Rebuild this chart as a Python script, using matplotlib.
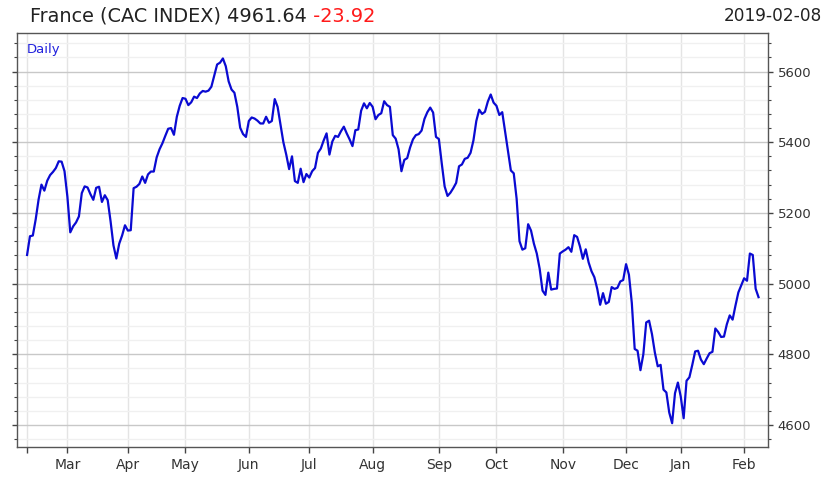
import matplotlib.pyplot as plt
from matplotlib.ticker import MultipleLocator
import pandas as pd

# Euronext closing days inside the window
holidays = ['2018-03-30', '2018-04-02', '2018-05-01', '2018-12-25', '2018-12-26', '2019-01-01']

# daily closes
feb_2018 = [5081, 5134, 5136, 5182, 5238, 5280, 5263, 5291, 5307, 5316, 5327, 5346, 5345, 5318]
mar_2018 = [5246, 5145, 5162, 5173, 5190, 5256, 5275, 5272, 5253, 5237, 5271, 5274, 5231, 5250,
            5236, 5176, 5108, 5071, 5113, 5136, 5165]
apr_2018 = [5150, 5151, 5270, 5274, 5282, 5303, 5285, 5309, 5317, 5317, 5357, 5380, 5397, 5418,
            5438, 5440, 5421, 5472, 5503, 5525]
may_2018 = [5523, 5505, 5513, 5529, 5525, 5538, 5545, 5543, 5546, 5557, 5588, 5620, 5625, 5637,
            5615, 5572, 5549, 5540, 5500, 5441, 5423, 5415]
jun_2018 = [5460, 5470, 5467, 5461, 5453, 5453, 5472, 5455, 5460, 5522, 5500, 5450, 5400, 5365,
            5324, 5360, 5290, 5285, 5325, 5287, 5310]
jul_2018 = [5300, 5318, 5327, 5370, 5382, 5405, 5425, 5365, 5402, 5418, 5415, 5431, 5444, 5425,
            5408, 5389, 5434, 5436, 5489, 5510, 5496, 5511]
aug_2018 = [5500, 5465, 5477, 5482, 5516, 5505, 5500, 5420, 5410, 5380, 5318, 5350, 5355, 5385,
            5408, 5420, 5423, 5433, 5466, 5485, 5498, 5484, 5415]
sep_2018 = [5409, 5340, 5275, 5248, 5257, 5270, 5285, 5332, 5337, 5353, 5356, 5370, 5405, 5460,
            5492, 5480, 5486, 5515, 5535, 5512]
oct_2018 = [5503, 5477, 5485, 5430, 5373, 5320, 5312, 5240, 5120, 5096, 5100, 5168, 5150, 5113,
            5085, 5042, 4980, 4968, 5031, 4983, 4985, 4986, 5085]
nov_2018 = [5091, 5096, 5103, 5090, 5137, 5132, 5105, 5070, 5097, 5060, 5035, 5018, 4985, 4940,
            4973, 4943, 4948, 4990, 4985, 4988, 5006, 5010]
dec_2018 = [5055, 5025, 4945, 4815, 4810, 4755, 4800, 4890, 4895, 4857, 4805, 4766, 4770, 4700,
            4692, 4635, 4605, 4690, 4720]
jan_2019 = [4680, 4619, 4725, 4735, 4770, 4808, 4810, 4785, 4772, 4788, 4803, 4807, 4873, 4863,
            4849, 4850, 4885, 4910, 4898, 4938, 4975, 4995]
feb_2019 = [5015, 5008, 5085, 5081, 4985.56, 4961.64]

last_close = 4961.64
change = -23.92
last_date = '2019-02-08'

closes = (feb_2018 + mar_2018 + apr_2018 + may_2018 + jun_2018 + jul_2018 + aug_2018
          + sep_2018 + oct_2018 + nov_2018 + dec_2018 + jan_2019 + feb_2019)

dates = pd.bdate_range('2018-02-09', last_date)
dates = dates[~dates.isin(pd.to_datetime(holidays))]
x = list(range(len(dates)))

# first trading day of every month gets a tick
month_starts = [i for i in x if i == 0 or dates[i].month != dates[i - 1].month]
month_labels = ['' if i == 0 else dates[i].strftime('%b') for i in month_starts]

fig = plt.figure(figsize=(8.33, 4.79), dpi=100)
ax = fig.add_axes([0.0204, 0.0678, 0.9016, 0.8633])

ax.plot(x, closes, color='#0a0ad2', linewidth=1.6, zorder=3)

ax.set_xlim(-3.5, 257.3)
ax.set_ylim(4539, 5709)

ax.set_xticks(month_starts)
ax.set_xticklabels(month_labels, fontsize=10, color='#333333')
ax.yaxis.set_major_locator(MultipleLocator(200))
ax.yaxis.set_minor_locator(MultipleLocator(40))

ax.grid(axis='x', color='#e4e4e4', linewidth=1)
ax.grid(axis='y', which='major', color='#c8c8c8', linewidth=1)
ax.grid(axis='y', which='minor', color='#f0f0f0', linewidth=1)
ax.set_axisbelow(True)

ax.tick_params(axis='y', which='both', left=True, right=True, labelleft=False,
               labelright=True, direction='out', colors='#444444', labelcolor='#333333',
               labelsize=9.5)
ax.tick_params(axis='y', which='major', length=3.5, width=1)
ax.tick_params(axis='y', which='minor', length=2, width=0.8)
ax.tick_params(axis='x', direction='out', length=4.3, width=1, colors='#444444',
               labelcolor='#333333', pad=4)
for s in ax.spines.values():
    s.set_color('#555555')
    s.set_linewidth(1)

ax.text(0.013, 0.975, 'Daily', transform=ax.transAxes, color='#2222dd', fontsize=9.5,
        ha='left', va='top')

t1 = fig.text(30 / 833, 1 - 16 / 479, f'France (CAC INDEX) {last_close:.2f}',
              fontsize=13.9, color='#222222', ha='left', va='center')
fig.text(822 / 833, 1 - 16 / 479, last_date, fontsize=12.2, color='#222222',
         ha='right', va='center')
ax.annotate(f' {change:.2f}', xy=(1, 0.5), xycoords=t1, fontsize=13.9, color='#ff1a1a',
            ha='left', va='center', annotation_clip=False)

fig.savefig('out.png', dpi=100)
